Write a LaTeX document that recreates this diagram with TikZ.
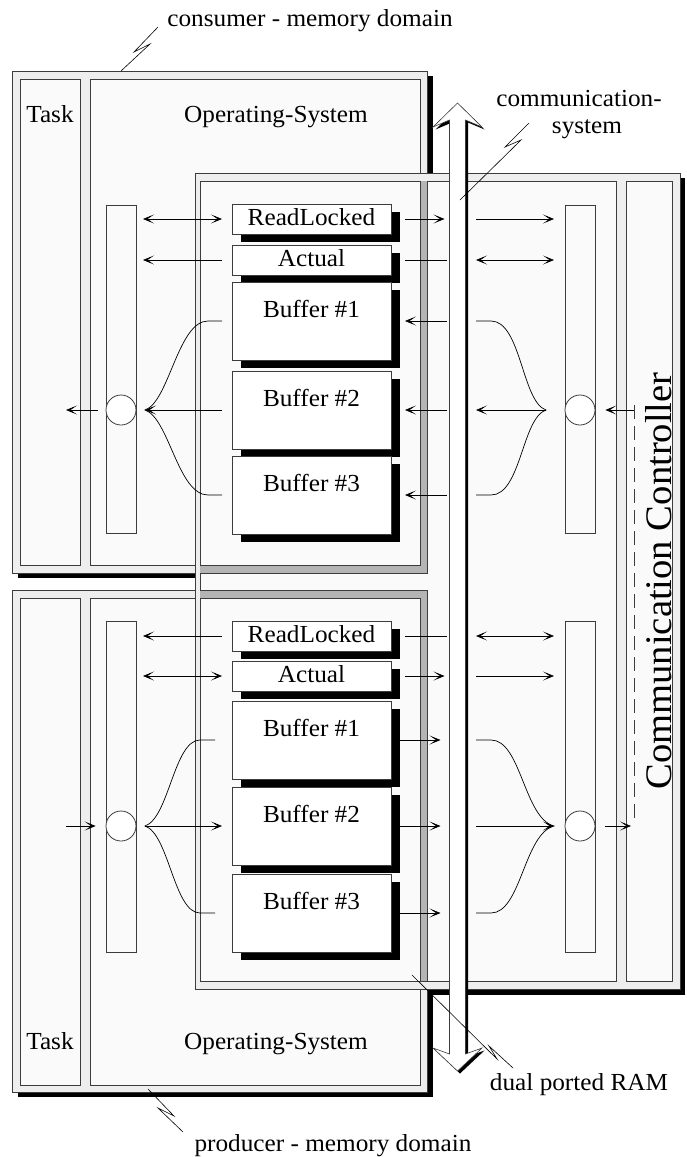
\documentclass[tikz,border=0pt]{standalone}
\usepackage{fontspec}
\setmainfont{Liberation Serif}[FakeStretch=1.03]
\usetikzlibrary{arrows.meta,calc,shadows}

\definecolor{framefill}{HTML}{EEEEEE}
\definecolor{panelfill}{HTML}{FAFAFA}
\definecolor{lineclr}{HTML}{3C3C3C}
\definecolor{bandclr}{HTML}{B4B4B4}

\newcommand\lblfont{\fontsize{24.5}{28}\selectfont}
\newcommand\ctrlfont{\fontsize{37.5}{42}\selectfont}

\begin{document}
\begin{tikzpicture}[x=1pt,y=-1pt,
  >={Stealth[length=11pt,width=9pt,inset=6.5pt]},
  domframe/.style={draw=lineclr,fill=framefill,line width=0.8pt,inner sep=0pt,outer sep=0pt,anchor=north west},
  dompanel/.style={draw=lineclr,fill=panelfill,line width=0.8pt,inner sep=0pt,outer sep=0pt,anchor=north west},
  portbar/.style={dompanel,minimum width=30pt},
  slotbox/.style={draw=lineclr,fill=white,line width=0.8pt,inner sep=0pt,outer sep=0pt,anchor=north west,
    minimum width=159pt,font=\lblfont,
    drop shadow={shadow xshift=9pt,shadow yshift=-8pt,opacity=1,fill=black}},
  flagbox/.style={slotbox,minimum height=30pt,text height=17pt,text depth=4pt},
  bufbox/.style={slotbox,minimum height=78pt,text height=17pt,text depth=25pt},
  disc/.style={circle,draw=lineclr,fill=white,line width=0.8pt,minimum size=30pt,inner sep=0pt},
  txt/.style={font=\lblfont,anchor=base,inner sep=0pt},
  conn/.style={line width=0.7pt,draw=black},
  leader/.style={line width=0.6pt,draw=black},
  bandline/.style={draw=lineclr,line width=0.8pt}]

\useasboundingbox (0,0) rectangle (687,1157);

% ---- drop shadows of the three domains
\fill[black] (200,178) rectangle (685,995);
\fill[black] (18,76) rectangle (433,578);
\fill[black] (18,595) rectangle (433,1097);

% ---- consumer memory domain
\node[domframe,minimum width=415pt,minimum height=502pt] (cDom) at (12,71) {};
\node[dompanel,minimum width=60pt,minimum height=486pt] (cTask) at (20,79) {};
\node[dompanel,minimum width=330pt,minimum height=486pt] (cOS) at (90,79) {};

% ---- producer memory domain
\node[domframe,minimum width=415pt,minimum height=502pt] (pDom) at (12,590) {};
\node[dompanel,minimum width=60pt,minimum height=487pt] (pTask) at (20,598) {};
\node[dompanel,minimum width=330pt,minimum height=487pt] (pOS) at (90,598) {};

% ---- communication system
\node[domframe,minimum width=485pt,minimum height=816pt] (comm) at (195,173) {};
\node[dompanel,minimum width=416pt,minimum height=800pt] (commIn) at (200,181) {};
\node[dompanel,minimum width=46pt,minimum height=800pt] (ctrl) at (626,181) {};

% ---- domain edges seen through the communication system
\fill[bandclr] (420,181) rectangle (427,573);
\fill[bandclr] (200,565) rectangle (427,573);
\draw[bandline] (420,181) -- (420,565) -- (200,565);
\draw[bandline] (427,181) -- (427,573) -- (200,573);
\fill[bandclr] (200,590) rectangle (427,598);
\fill[bandclr] (420,598) rectangle (427,981);
\draw[bandline] (200,590) -- (427,590) -- (427,981);
\draw[bandline] (200,598) -- (420,598) -- (420,981);

% ---- titles
\node[txt] (cTaskLbl) at (50,122) {Task};
\node[txt] (cOSLbl) at (276,122) {Operating-System};
\node[txt] (pTaskLbl) at (50,1049) {Task};
\node[txt] (pOSLbl) at (276,1049) {Operating-System};
\node[font=\ctrlfont,rotate=90,anchor=base,inner sep=0pt] (ctrlLbl) at (671,581) {Communication Controller};
\coordinate (dashTop) at (634,405);
\coordinate (dashBot) at (634,818);
\draw[lineclr,line width=0.7pt,dash pattern=on 14pt off 7pt] (dashTop) -- (dashBot);

% ---- ports and circles
\node[portbar,minimum height=328pt] (cLbar) at (106,205) {};
\node[portbar,minimum height=328pt] (cRbar) at (565,205) {};
\node[portbar,minimum height=331pt] (pLbar) at (106,621) {};
\node[portbar,minimum height=331pt] (pRbar) at (565,621) {};

% ---- shared buffers (consumer side)
\node[flagbox] (cRL) at (232,204) {ReadLocked};
\node[flagbox] (cAct) at (232,245) {Actual};
\node[bufbox] (cB1) at (232,282) {Buffer \#1};
\node[bufbox] (cB2) at (232,371) {Buffer \#2};
\node[bufbox] (cB3) at (232,456) {Buffer \#3};

% ---- shared buffers (producer side)
\node[flagbox] (pRL) at (232,621) {ReadLocked};
\node[flagbox] (pAct) at (232,661) {Actual};
\node[bufbox] (pB1) at (232,701) {Buffer \#1};
\node[bufbox] (pB2) at (232,787) {Buffer \#2};
\node[bufbox] (pB3) at (232,874) {Buffer \#3};

\node[disc] (cLc) at (cLbar.center |- cB2.west) {};
\node[disc] (cRc) at (cRbar.center |- cB2.east) {};
\node[disc] (pLc) at (pLbar.center |- pB2.west) {};
\node[disc] (pRc) at (pRbar.center |- pB2.east) {};

\coordinate (shaftL) at (449.5,0);
\coordinate (shaftR) at (466,0);

% ---- consumer connectors
\draw[conn,<->,shorten <=7pt,shorten >=10pt] (cLbar.east |- cRL.west) -- (cRL.west);
\draw[conn,->,shorten <=14pt,shorten >=5pt] (cRL.east) -- (shaftL |- cRL.east);
\draw[conn,->,shorten <=10pt,shorten >=11pt] (shaftR |- cRL.east) -- (cRbar.west |- cRL.east);
\draw[conn,<-,shorten <=7pt,shorten >=10pt] (cLbar.east |- cAct.west) -- (cAct.west);
\draw[conn,shorten <=14pt,shorten >=3pt] (cAct.east) -- (shaftL |- cAct.east);
\draw[conn,<->,shorten <=10pt,shorten >=11pt] (shaftR |- cAct.east) -- (cRbar.west |- cAct.east);
\foreach \bx in {cB1,cB2,cB3}
  \draw[conn,<-,shorten <=14pt,shorten >=3pt] (\bx.east) -- (shaftL |- \bx.east);

\coordinate (cRtip) at ($(cRbar.west |- cB2.east)+(-19,0)$);
\coordinate (cRu) at ($(shaftR |- cB1.east)+(25,0)$);
\coordinate (cRd) at ($(shaftR |- cB3.east)+(25,0)$);
\draw[conn,shorten <=10pt,shorten >=10pt] (shaftR |- cB1.east) -- (cRu)
  .. controls ($(cRu)+(30,0)$) and ($(cRtip)+(-24,-8)$) .. (cRtip)
  .. controls ($(cRtip)+(-24,8)$) and ($(cRd)+(30,0)$) .. (cRd) -- (shaftR |- cB3.east);
\draw[conn,->,shorten >=10pt] (cRtip) -- (shaftR |- cRtip);

\coordinate (cLtip) at ($(cLbar.east |- cB2.west)+(9,0)$);
\coordinate (cLu) at ($(cB1.west)+(-24,0)$);
\coordinate (cLd) at ($(cB3.west)+(-24,0)$);
\draw[conn,shorten <=10pt,shorten >=10pt] (cB1.west) -- (cLu)
  .. controls ($(cLu)+(-30,0)$) and ($(cLtip)+(24,-8)$) .. (cLtip)
  .. controls ($(cLtip)+(24,8)$) and ($(cLd)+(-30,0)$) .. (cLd) -- (cB3.west);
\draw[conn,<-,shorten >=10pt] (cLtip) -- (cB2.west);

\draw[conn,->,shorten <=8pt] (cLc.west) -- ($(cTask.east |- cLc.west)+(-14,0)$);
\draw[conn,<-,shorten <=10pt] (cRc.east) -- (dashTop |- cRc.east);

% ---- producer connectors
\draw[conn,<-,shorten <=7pt,shorten >=10pt] (pLbar.east |- pRL.west) -- (pRL.west);
\draw[conn,shorten <=14pt,shorten >=3pt] (pRL.east) -- (shaftL |- pRL.east);
\draw[conn,<->,shorten <=10pt,shorten >=11pt] (shaftR |- pRL.east) -- (pRbar.west |- pRL.east);
\draw[conn,<->,shorten <=7pt,shorten >=10pt] (pLbar.east |- pAct.west) -- (pAct.west);
\draw[conn,->,shorten <=14pt,shorten >=5pt] (pAct.east) -- (shaftL |- pAct.east);
\draw[conn,->,shorten <=10pt,shorten >=11pt] (shaftR |- pAct.east) -- (pRbar.west |- pAct.east);
\foreach \bx in {pB1,pB2,pB3}
  \draw[conn,->,shorten <=9pt,shorten >=9pt] (\bx.east) -- (shaftL |- \bx.east);

\coordinate (pRtip) at ($(pRbar.west |- pB2.east)+(-11,0)$);
\coordinate (pRu) at ($(shaftR |- pB1.east)+(25,0)$);
\coordinate (pRd) at ($(shaftR |- pB3.east)+(25,0)$);
\draw[conn,shorten <=10pt,shorten >=10pt] (shaftR |- pB1.east) -- (pRu)
  .. controls ($(pRu)+(30,0)$) and ($(pRtip)+(-30,-8)$) .. (pRtip)
  .. controls ($(pRtip)+(-30,8)$) and ($(pRd)+(30,0)$) .. (pRd) -- (shaftR |- pB3.east);
\draw[conn,->,shorten <=10pt] (shaftR |- pRtip) -- (pRtip);

\coordinate (pLtip) at ($(pLbar.east |- pB2.west)+(9,0)$);
\coordinate (pLu) at ($(pB1.west)+(-32,0)$);
\coordinate (pLd) at ($(pB3.west)+(-32,0)$);
\draw[conn,shorten <=17pt,shorten >=17pt] (pB1.west) -- (pLu)
  .. controls ($(pLu)+(-26,0)$) and ($(pLtip)+(24,-8)$) .. (pLtip)
  .. controls ($(pLtip)+(24,8)$) and ($(pLd)+(-26,0)$) .. (pLd) -- (pB3.west);
\draw[conn,->,shorten >=10pt] (pLtip) -- (pB2.west);

\draw[conn,->,shorten >=10pt] ($(pTask.east |- pLc.west)+(-14,0)$) -- (pLc.west);
\draw[conn,->,shorten <=10pt,shorten >=3pt] (pRc.east) -- (dashTop |- pRc.east);

% ---- communication system: double headed hollow arrow
\fill[black] (460,105.5) -- (484.5,129.5) -- (468,122.5) -- (468,1056.5) -- (484.5,1050.5)
  -- (460,1073.5) -- (435.5,1050.5) -- (452,1056.5) -- (452,122.5) -- (435.5,129.5) -- cycle;
\filldraw[fill=white,draw=lineclr,line width=0.6pt] (457.5,103) -- (482,127) -- (465.5,120)
  -- (465.5,1054) -- (482,1048) -- (457.5,1071) -- (433,1048) -- (449.5,1054) -- (449.5,120)
  -- (433,127) -- cycle;

% ---- leaders and captions
\coordinate (cLeadA) at (121,71);
\coordinate (cLeadB) at (158,27);
\draw[leader] (cLeadA) -- (150,44) -- (134,52) -- (cLeadB);
\node[txt] (cDomLbl) at (310,26) {consumer - memory domain};

\coordinate (sLeadA) at (460,200);
\coordinate (sLeadB) at (529,123);
\draw[leader] (sLeadA) -- (521,140) -- (505,147) -- (sLeadB);
\node[txt] (commLbl1) at (579,106) {communication-};
\node[txt] (commLbl2) at (587,133) {system};

\coordinate (rLeadA) at (412,975);
\coordinate (rLeadB) at (513,1068);
\draw[leader] (rLeadA) -- (497,1059) -- (489,1046) -- (rLeadB);
\node[txt] (ramLbl) at (579,1090) {dual ported RAM};

\coordinate (pLeadA) at (148,1089);
\coordinate (pLeadB) at (183,1132);
\draw[leader] (pLeadA) -- (174,1116) -- (158,1108) -- (pLeadB);
\node[txt] (pDomLbl) at (333,1151) {producer - memory domain};

\end{tikzpicture}
\end{document}
